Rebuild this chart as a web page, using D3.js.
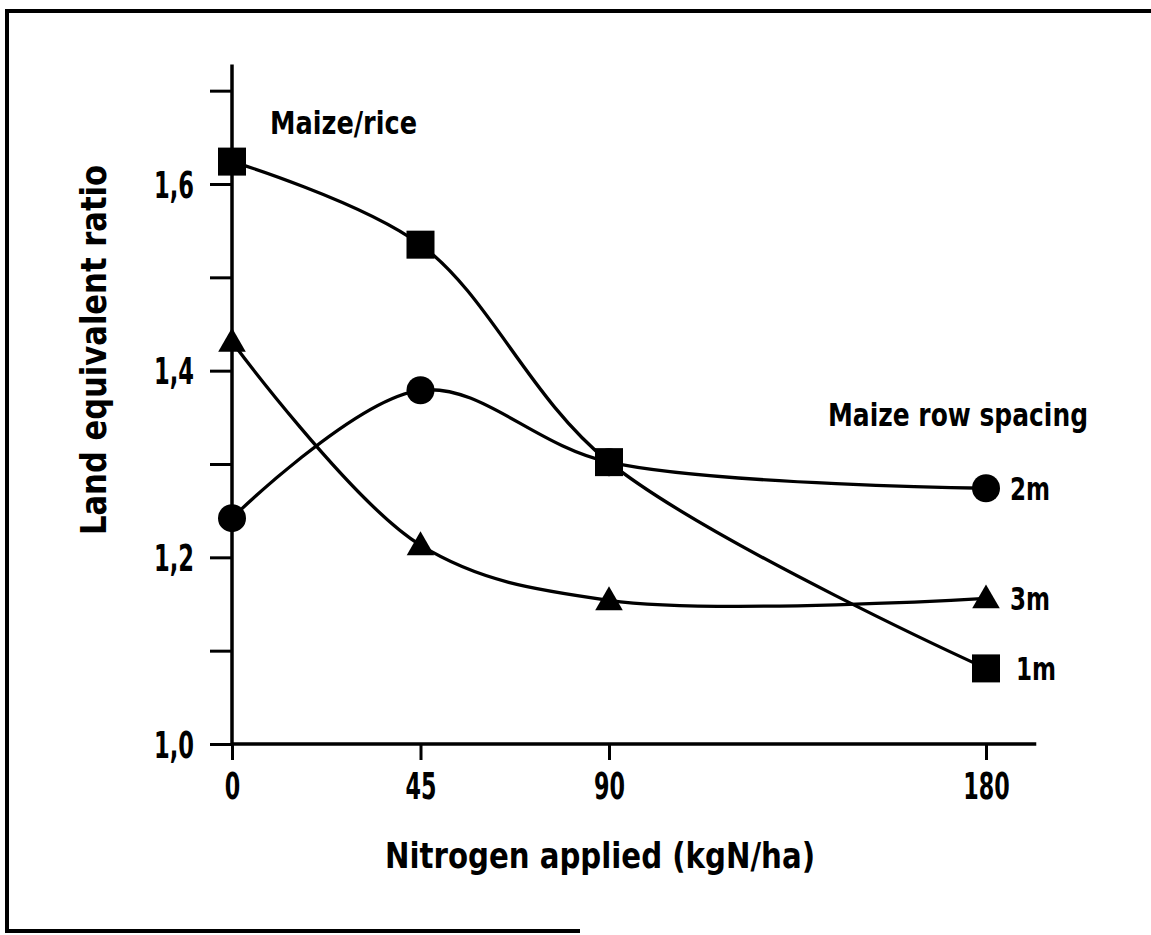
<!DOCTYPE html>
<html>
<head>
<meta charset="utf-8">
<script src="https://cdn.jsdelivr.net/npm/d3@7"></script>
<style>
body { margin: 0; background: #fff; }
svg { display: block; }
text { font-family: "DejaVu Sans", sans-serif; font-stretch: condensed; font-weight: bold; fill: #000; }
</style>
</head>
<body>
<div id="chart"></div>
<script>
// nitrogen levels (kgN/ha)
var nitrogen = [0, 45, 90, 180];
// land equivalent ratio per maize row spacing
var ler1m = [1.624, 1.535, 1.302, 1.081];
var ler2m = [1.242, 1.379, 1.302, 1.274];
var ler3m = [1.431, 1.213, 1.154, 1.156];
var yTicks = [1.0, 1.1, 1.2, 1.3, 1.4, 1.5, 1.6, 1.7];
var yLabels = [1.0, 1.2, 1.4, 1.6];
var seriesNames = ["2m", "3m", "1m"];

var width = 1151, height = 935;

var svg = d3.select("#chart")
    .append("svg")
    .attr("width", width)
    .attr("height", height);

// squeeze a text to a given width (the original face is a heavy condensed one)
function squeeze(sel, w) {
    sel.attr("textLength", w).attr("lengthAdjust", "spacingAndGlyphs");
}
function labelWidth(s) {
    var w = 0;
    for (var i = 0; i < s.length; i++) w += (s[i] === "," ? 9 : 15.5);
    return w;
}

// frame (right side and part of bottom are missing in the scan)
svg.append("path")
    .attr("d", "M1151,11 L7,11 L7,931 L580,931")
    .attr("fill", "none")
    .attr("stroke", "#000")
    .attr("stroke-width", 4);

var x = d3.scaleLinear().domain([0, 180]).range([232, 986]);
var y = d3.scaleLinear().domain([1.0, 1.6]).range([744, 184]);

// Y axis
var yAxis = svg.append("g")
    .attr("transform", "translate(" + x(0) + ",0)")
    .call(d3.axisLeft(y)
        .tickValues(yTicks)
        .tickSize(22)
        .tickPadding(16)
        .tickFormat(function(d) {
            var hit = yLabels.some(function(v) { return Math.abs(v - d) < 1e-6; });
            return hit ? d3.format(".1f")(d).replace(".", ",") : "";
        }));
yAxis.select(".domain").remove();
yAxis.selectAll(".tick line").attr("stroke-width", 3);
yAxis.selectAll(".tick text")
    .style("font-size", "37px")
    .style("font-family", "'DejaVu Sans', sans-serif")
    .style("font-weight", "bold")
    .attr("dy", "0.36em")
    .each(function() {
        var t = d3.select(this);
        if (t.text()) squeeze(t, labelWidth(t.text()));
    });
svg.append("line")
    .attr("x1", x(0)).attr("x2", x(0))
    .attr("y1", y(1.0) + 2).attr("y2", y(1.728))
    .attr("stroke", "#000").attr("stroke-width", 3.5);

// X axis
var xAxis = svg.append("g")
    .attr("transform", "translate(0," + y(1.0) + ")")
    .call(d3.axisBottom(x)
        .tickValues(nitrogen)
        .tickSize(16)
        .tickPadding(13)
        .tickFormat(d3.format("d")));
xAxis.select(".domain").remove();
xAxis.selectAll(".tick line").attr("stroke-width", 3);
xAxis.selectAll(".tick text")
    .style("font-size", "37px")
    .style("font-family", "'DejaVu Sans', sans-serif")
    .style("font-weight", "bold")
    .each(function() {
        var t = d3.select(this);
        squeeze(t, labelWidth(t.text()));
    });
svg.append("line")
    .attr("x1", x(0)).attr("x2", x(192))
    .attr("y1", y(1.0)).attr("y2", y(1.0))
    .attr("stroke", "#000").attr("stroke-width", 3.5);

// axis titles
svg.append("text")
    .attr("x", 600).attr("y", 868)
    .attr("text-anchor", "middle")
    .style("font-size", "36px")
    .text("Nitrogen applied (kgN/ha)")
    .call(squeeze, 430);

svg.append("text")
    .attr("transform", "translate(106,350) rotate(-90)")
    .attr("text-anchor", "middle")
    .style("font-size", "35px")
    .text("Land equivalent ratio")
    .call(squeeze, 370);

// annotations
svg.append("text")
    .attr("x", 270).attr("y", 134)
    .style("font-size", "32px")
    .text("Maize/rice")
    .call(squeeze, 147);

svg.append("text")
    .attr("x", 828).attr("y", 426)
    .style("font-size", "32px")
    .text("Maize row spacing")
    .call(squeeze, 260);

// lines
var line = d3.line()
    .x(function(d, i) { return x(nitrogen[i]); })
    .y(function(d) { return y(d); })
    .curve(d3.curveCatmullRom.alpha(0.5));

[ler2m, ler3m, ler1m].forEach(function(vals) {
    svg.append("path")
        .attr("d", line(vals))
        .attr("fill", "none")
        .attr("stroke", "#000")
        .attr("stroke-width", 3.3);
});

// markers
svg.selectAll("circle.m2")
    .data(ler2m)
    .enter()
    .append("circle")
    .attr("class", "m2")
    .attr("cx", function(d, i) { return x(nitrogen[i]); })
    .attr("cy", function(d) { return y(d); })
    .attr("r", 14);

var tri = d3.symbol().type(d3.symbolTriangle).size(330);
svg.selectAll("path.m3")
    .data(ler3m)
    .enter()
    .append("path")
    .attr("class", "m3")
    .attr("d", tri)
    .attr("transform", function(d, i) { return "translate(" + x(nitrogen[i]) + "," + (y(d) + 2) + ")"; });

svg.selectAll("rect.m1")
    .data(ler1m)
    .enter()
    .append("rect")
    .attr("class", "m1")
    .attr("x", function(d, i) { return x(nitrogen[i]) - 14; })
    .attr("y", function(d) { return y(d) - 14; })
    .attr("width", 28)
    .attr("height", 28);

// series labels next to the last point
var lastVals = [ler2m[3], ler3m[3], ler1m[3]];
svg.selectAll("text.series")
    .data(seriesNames)
    .enter()
    .append("text")
    .attr("class", "series")
    .attr("x", function(d) { return x(180) + (d === "1m" ? 30 : 24); })
    .attr("y", function(d, i) { return y(lastVals[i]); })
    .attr("dy", "0.36em")
    .style("font-size", "32px")
    .text(function(d) { return d; })
    .call(squeeze, 40);
</script>
</body>
</html>
